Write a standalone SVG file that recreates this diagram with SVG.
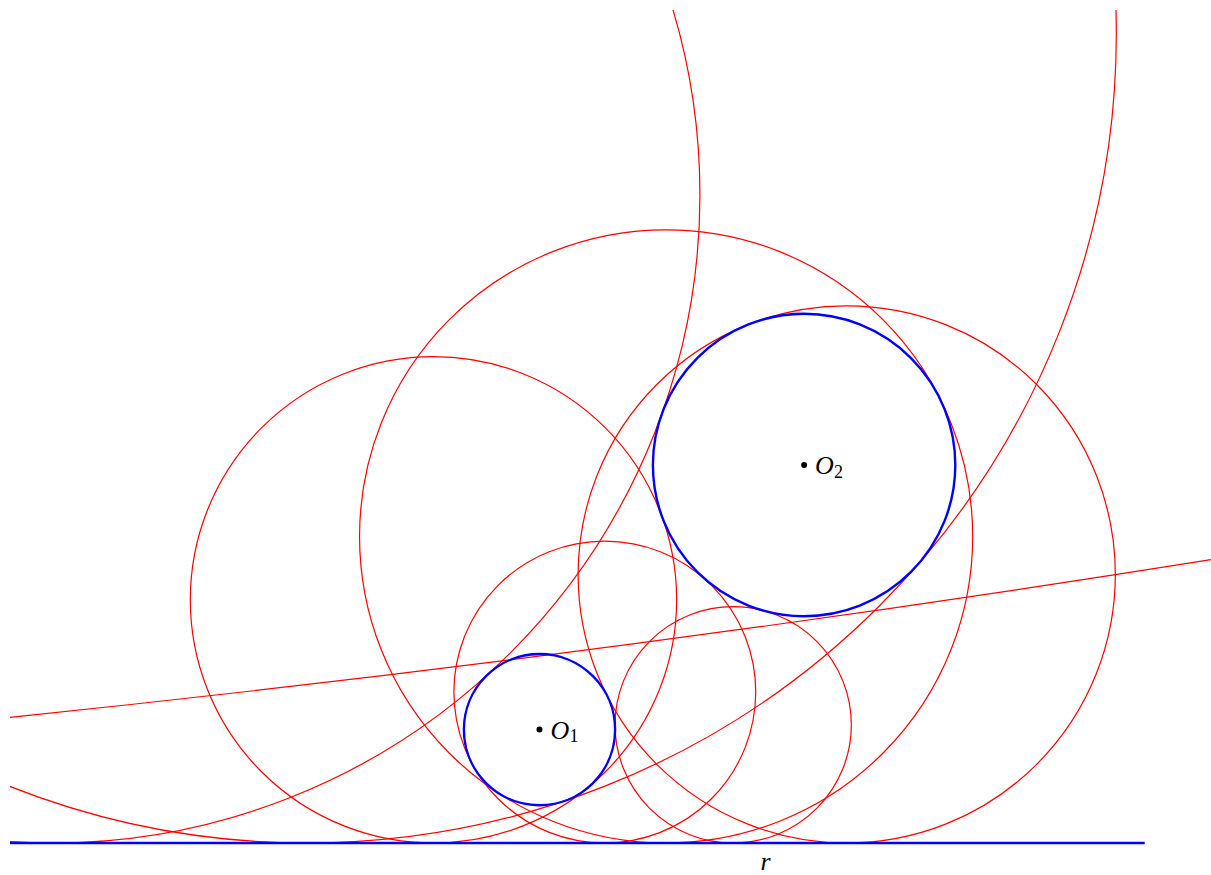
<svg xmlns="http://www.w3.org/2000/svg" width="1211" height="875" viewBox="0 0 1211 875">
  <style>
    .red { fill: none; stroke: #ff0000; stroke-width: 1.2; }
    .blue { fill: none; stroke: #0000ff; stroke-width: 2.4; }
    .lbl { font-family: "Liberation Serif", "DejaVu Serif", serif; font-style: italic; font-size: 26px; fill: #000; }
    .sub { font-family: "Liberation Serif", "DejaVu Serif", serif; font-style: normal; font-size: 18px; fill: #000; }
    .dot { fill: #000; }
  </style>
  <defs>
    <clipPath id="clip">
      <rect x="10" y="10" width="1210" height="845"/>
    </clipPath>
  </defs>
  <rect width="1211" height="875" fill="#ffffff"/>

  <g id="connectors" clip-path="url(#clip)">
    <circle id="sol-a1" class="red" cx="733.19" cy="724.85" r="118.15"/>
    <circle id="sol-a2" class="red" cx="51.81" cy="194.88" r="648.12"/>
    <circle id="sol-b1" class="red" cx="846.73" cy="574.40" r="268.60"/>
    <path id="sol-b2" class="red" d="M 10 717.3 A 22000 22000 0 0 0 1211 559.7"/>
    <circle id="sol-c1" class="red" cx="604.81" cy="692.08" r="150.92"/>
    <circle id="sol-c2" class="red" cx="433.48" cy="599.82" r="243.18"/>
    <circle id="sol-d1" class="red" cx="666.12" cy="536.43" r="306.57"/>
    <circle id="sol-d2" class="red" cx="307.04" cy="33.72" r="809.28"/>
  </g>

  <g id="line-r">
    <line class="blue" x1="10" y1="843" x2="1144.7" y2="843"/>
    <text class="lbl" x="765.5" y="870" text-anchor="middle">r</text>
  </g>

  <g id="circle-O1">
    <circle class="blue" cx="539.5" cy="729.6" r="75.6"/>
    <circle class="dot" cx="539.5" cy="729.6" r="3"/>
    <text class="lbl" x="550.5" y="738.5">O</text>
    <text class="sub" x="569.5" y="742">1</text>
  </g>

  <g id="circle-O2">
    <circle class="blue" cx="804.1" cy="465" r="151.2"/>
    <circle class="dot" cx="804.1" cy="465" r="3"/>
    <text class="lbl" x="815" y="474">O</text>
    <text class="sub" x="834" y="477.5">2</text>
  </g>
</svg>
